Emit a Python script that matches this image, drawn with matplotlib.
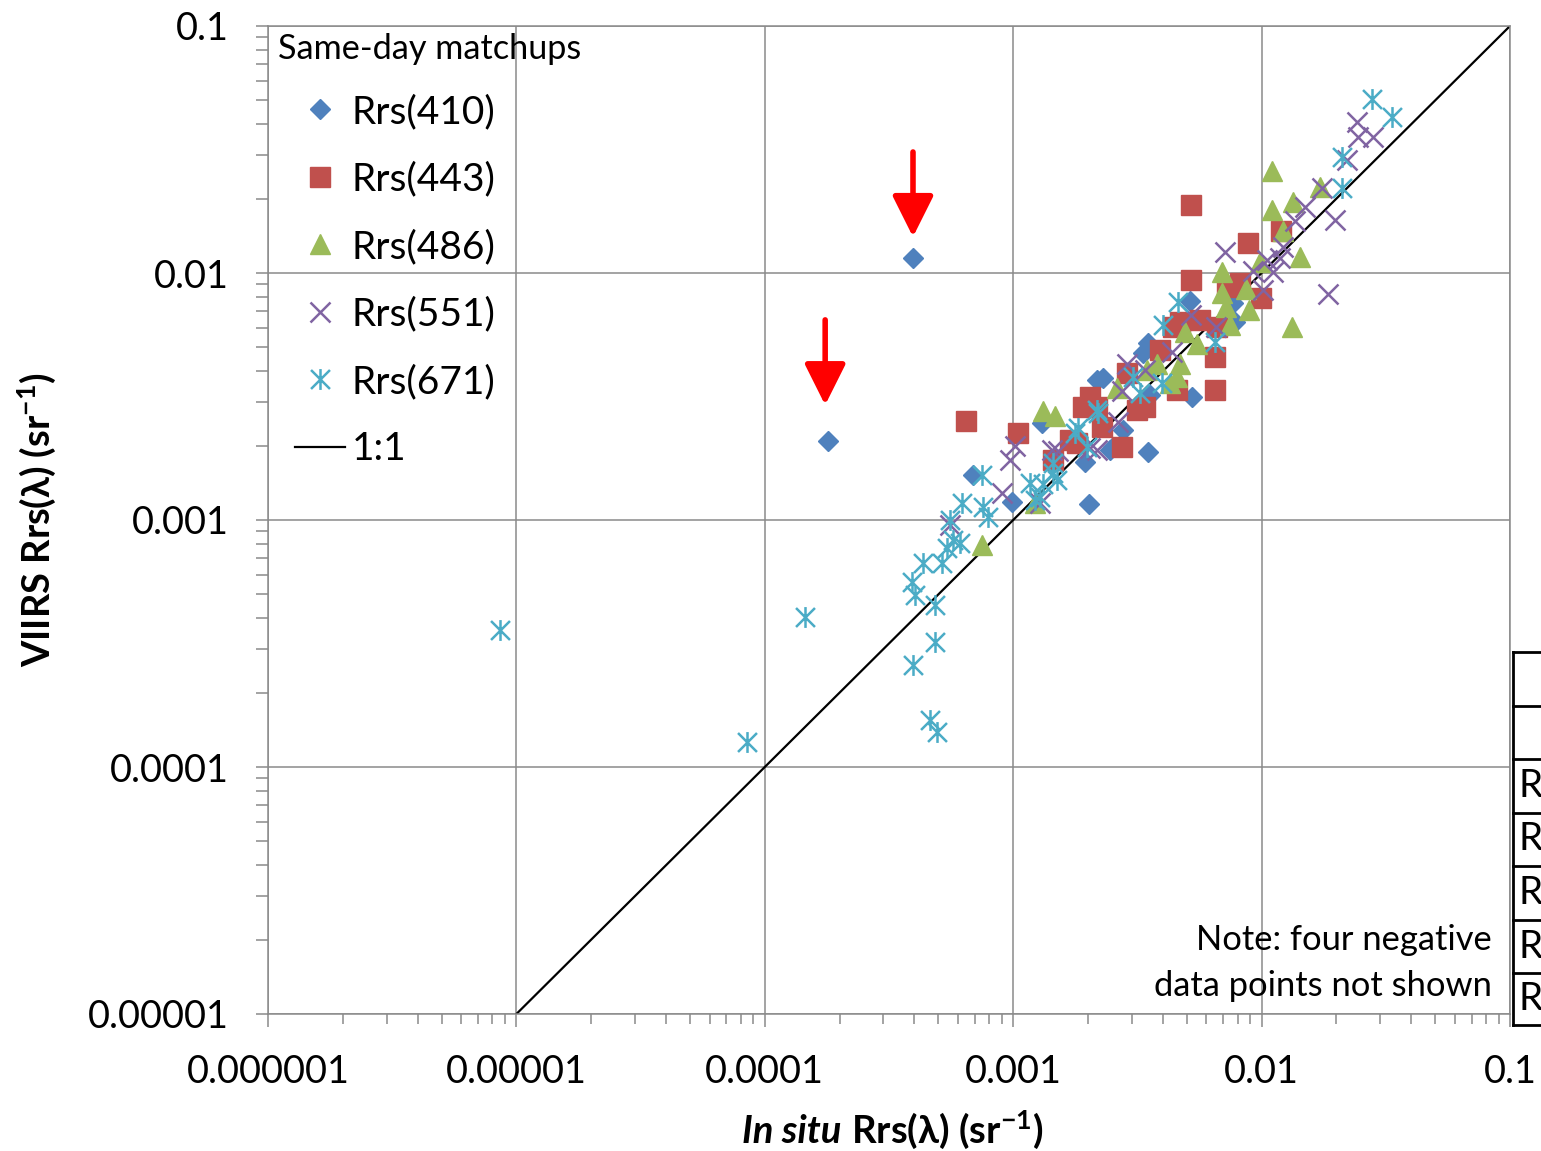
import numpy as np
import matplotlib
matplotlib.use("Agg")
import matplotlib.pyplot as plt
from matplotlib.lines import Line2D
from matplotlib.path import Path
from matplotlib.ticker import NullFormatter, LogLocator

plt.rcParams['font.family'] = ['Lato', 'DejaVu Sans']
plt.rcParams['mathtext.fontset'] = 'custom'
plt.rcParams['mathtext.rm'] = 'Lato:bold'
plt.rcParams['mathtext.it'] = 'Lato:italic:bold'
plt.rcParams['mathtext.bf'] = 'Lato:bold'

# ---- data (in situ, VIIRS) ----
rrs410_x = [3.95e-4, 1.80e-4, 6.89e-4, 9.89e-4, 2.02e-3, 2.45e-3, 3.49e-3, 2.77e-3, 1.95e-3, 5.25e-3,
            5.15e-3, 7.81e-3, 3.49e-3, 3.33e-3, 2.18e-3, 2.30e-3, 3.55e-3, 2.52e-3, 7.67e-3, 1.31e-3]
rrs410_y = [1.15e-2, 2.09e-3, 1.52e-3, 1.18e-3, 1.16e-3, 1.92e-3, 1.89e-3, 2.31e-3, 1.72e-3, 3.15e-3,
            7.70e-3, 6.33e-3, 5.21e-3, 4.75e-3, 3.69e-3, 3.76e-3, 3.21e-3, 1.97e-3, 7.56e-3, 2.47e-3]

rrs443_x = [6.46e-4, 1.045e-3, 5.20e-3, 5.20e-3, 8.81e-3, 1.197e-2, 9.94e-3, 7.26e-3, 8.18e-3, 6.49e-3,
            6.49e-3, 4.69e-3, 5.65e-3, 6.61e-3, 3.90e-3, 4.56e-3, 3.39e-3, 2.87e-3, 2.18e-3, 2.04e-3,
            1.91e-3, 2.28e-3, 2.74e-3, 1.69e-3, 1.81e-3, 1.45e-3, 3.15e-3, 4.40e-3]
rrs443_y = [2.52e-3, 2.25e-3, 1.885e-2, 9.37e-3, 1.32e-2, 1.48e-2, 7.92e-3, 8.77e-3, 9.11e-3, 4.57e-3,
            3.36e-3, 6.33e-3, 6.45e-3, 6.04e-3, 4.88e-3, 3.36e-3, 2.87e-3, 3.94e-3, 2.87e-3, 3.15e-3,
            2.87e-3, 2.38e-3, 1.97e-3, 2.11e-3, 2.05e-3, 1.75e-3, 2.79e-3, 6.04e-3]

rrs486_x = [1.101e-2, 1.101e-2, 1.338e-2, 1.718e-2, 1.428e-2, 1.326e-2, 1.22e-2, 9.85e-3, 6.93e-3, 8.65e-3,
            6.93e-3, 7.19e-3, 8.90e-3, 7.46e-3, 4.91e-3, 5.49e-3, 3.79e-3, 4.69e-3, 4.28e-3, 2.62e-3,
            1.318e-3, 1.474e-3, 7.49e-4, 1.224e-3, 3.46e-3, 4.56e-3]
rrs486_y = [2.59e-2, 1.80e-2, 1.94e-2, 2.23e-2, 1.16e-2, 6.04e-3, 1.48e-2, 1.107e-2, 1.01e-2, 8.61e-3,
            8.30e-3, 7.28e-3, 7.09e-3, 6.16e-3, 5.77e-3, 5.16e-3, 4.28e-3, 4.28e-3, 3.59e-3, 3.42e-3,
            2.76e-3, 2.64e-3, 7.92e-4, 1.17e-3, 4.05e-3, 3.79e-3]

rrs551_x = [2.42e-2, 2.44e-2, 2.81e-2, 2.21e-2, 1.75e-2, 1.495e-2, 1.363e-2, 1.975e-2, 1.22e-2, 1.051e-2,
            1.186e-2, 9.24e-3, 1.111e-2, 1.013e-2, 7.12e-3, 1.851e-2, 5.20e-3, 6.55e-3, 4.36e-3, 2.87e-3,
            3.39e-3, 2.74e-3, 2.64e-3, 1.017e-3, 9.71e-4, 9.01e-4, 5.57e-4, 1.282e-3, 1.515e-3, 2.04e-3,
            2.18e-3, 1.433e-3]
rrs551_y = [4.09e-2, 3.55e-2, 3.55e-2, 2.87e-2, 2.21e-2, 1.85e-2, 1.62e-2, 1.64e-2, 1.274e-2, 1.129e-2,
            1.15e-2, 1.019e-2, 1.01e-2, 8.53e-3, 1.216e-2, 8.22e-3, 6.76e-3, 6.04e-3, 4.79e-3, 4.28e-3,
            4.05e-3, 3.33e-3, 2.49e-3, 1.99e-3, 1.75e-3, 1.286e-3, 9.54e-4, 1.17e-3, 1.90e-3, 1.96e-3,
            1.92e-3, 1.92e-3]

rrs671_x = [8.59e-6, 8.48e-5, 1.451e-4, 3.95e-4, 4.84e-4, 4.63e-4, 4.93e-4, 3.91e-4, 4.02e-4, 4.84e-4,
            4.33e-4, 5.17e-4, 5.41e-4, 5.72e-4, 6.11e-4, 5.57e-4, 6.22e-4, 7.56e-4, 7.92e-4, 7.49e-4,
            1.168e-3, 1.318e-3, 1.45e-3, 1.50e-3, 1.282e-3, 1.823e-3, 1.98e-3, 2.195e-3, 3.24e-3, 1.45e-3,
            1.224e-3, 1.773e-3, 4.61e-3, 4.01e-3, 6.49e-3, 3.04e-3, 3.97e-3, 2.18e-3, 2.78e-2, 3.35e-2,
            2.11e-2, 2.11e-2]
rrs671_y = [3.59e-4, 1.263e-4, 4.05e-4, 2.59e-4, 3.21e-4, 1.55e-4, 1.386e-4, 5.61e-4, 4.97e-4, 4.53e-4,
            6.70e-4, 6.70e-4, 7.70e-4, 8.30e-4, 8.07e-4, 1.0e-3, 1.172e-3, 1.129e-3, 1.028e-3, 1.52e-3,
            1.412e-3, 1.40e-3, 1.55e-3, 1.452e-3, 1.239e-3, 2.36e-3, 1.97e-3, 2.71e-3, 3.27e-3, 1.70e-3,
            1.205e-3, 2.25e-3, 7.63e-3, 6.16e-3, 5.26e-3, 3.79e-3, 3.59e-3, 2.79e-3, 5.06e-2, 4.28e-2,
            2.95e-2, 2.21e-2]

one_to_one = [1e-5, 0.1]

# red arrows (x, y start, y end)
arrow_x = [3.95e-4, 1.75e-4]
arrow_y0 = [3.09e-2, 6.46e-3]
arrow_y1 = [1.40e-2, 2.92e-3]

xtick_vals = [1e-6, 1e-5, 1e-4, 1e-3, 1e-2, 1e-1]
xtick_labels = ['0.000001', '0.00001', '0.0001', '0.001', '0.01', '0.1']
ytick_vals = [1e-5, 1e-4, 1e-3, 1e-2, 1e-1]
ytick_labels = ['0.00001', '0.0001', '0.001', '0.01', '0.1']

# asterisk marker like Excel's
star = Path([(-0.5, -0.5), (0.5, 0.5), (-0.5, 0.5), (0.5, -0.5), (0, -0.55), (0, 0.55)],
            [Path.MOVETO, Path.LINETO] * 3)

W, H = 1541, 1151
fig = plt.figure(figsize=(W / 100, H / 100), dpi=100)
ax = fig.add_axes([268 / W, 1 - 1014 / H, (1510 - 268) / W, (1014 - 26) / H])
ax.set_xscale('log')
ax.set_yscale('log')
ax.set_xlim(1e-6, 0.1)
ax.set_ylim(1e-5, 0.1)

gray = '#8a8a8a'
ax.grid(True, which='major', color=gray, lw=1.1)
ax.set_axisbelow(True)
for s in ax.spines.values():
    s.set_color(gray)
    s.set_linewidth(1.1)

ax.plot(one_to_one, one_to_one, color='black', lw=1.6, zorder=2)

ax.plot(rrs410_x, rrs410_y, ls='none', marker='D', ms=10.5, color='#4F81BD', mec='#4F81BD', zorder=3)
ax.plot(rrs443_x, rrs443_y, ls='none', marker='s', ms=14, color='#C0504D', mec='#C0504D', zorder=3)
ax.plot(rrs486_x, rrs486_y, ls='none', marker='^', ms=14.5, color='#9BBB59', mec='#9BBB59', zorder=3)
ax.plot(rrs551_x, rrs551_y, ls='none', marker='x', ms=15, mew=1.8, color='#8064A2', zorder=3)
ax.plot(rrs671_x, rrs671_y, ls='none', marker=star, ms=15, mew=1.8, color='#4BACC6', zorder=3)

for x, y0, y1 in zip(arrow_x, arrow_y0, arrow_y1):
    ax.annotate('', xy=(x, y1), xytext=(x, y0),
                arrowprops=dict(arrowstyle='-|>,head_length=0.6,head_width=0.3',
                                color='red', lw=4, mutation_scale=42, shrinkA=0, shrinkB=0))

ax.set_xticks(xtick_vals)
ax.set_xticklabels(xtick_labels)
ax.set_yticks(ytick_vals)
ax.set_yticklabels(ytick_labels)
ax.xaxis.set_minor_locator(LogLocator(base=10, subs=np.arange(2, 10)))
ax.yaxis.set_minor_locator(LogLocator(base=10, subs=np.arange(2, 10)))
ax.xaxis.set_minor_formatter(NullFormatter())
ax.yaxis.set_minor_formatter(NullFormatter())
ax.tick_params(axis='both', which='both', color=gray, width=1.1, labelsize=27.3)
ax.tick_params(axis='x', which='major', length=9, pad=20)
ax.tick_params(axis='x', which='minor', length=7)
ax.tick_params(axis='y', which='both', length=9, pad=19)

# legend
handles = [
    Line2D([], [], ls='none', marker='D', ms=10, color='#4F81BD'),
    Line2D([], [], ls='none', marker='s', ms=14, color='#C0504D'),
    Line2D([], [], ls='none', marker='^', ms=14, color='#9BBB59'),
    Line2D([], [], ls='none', marker='x', ms=15, mew=1.8, color='#8064A2'),
    Line2D([], [], ls='none', marker=star, ms=15, mew=1.8, color='#4BACC6'),
    Line2D([], [], color='black', lw=1.6),
]
labels = ['Rrs(410)', 'Rrs(443)', 'Rrs(486)', 'Rrs(551)', 'Rrs(671)', '1:1']
fig.text(278 / W, 1 - 49 / H, 'Same-day matchups', fontsize=24.7, ha='left', va='center')
ax.legend(handles, labels, loc='upper left', bbox_to_anchor=(295 / W, 1 - 94 / H),
          bbox_transform=fig.transFigure, frameon=False, fontsize=28, borderpad=0,
          borderaxespad=0, handlelength=1.28, handletextpad=0.18, labelspacing=0.81,
          numpoints=1)

fig.text(1492 / W, 1 - 963 / H, 'Note: four negative\ndata points not shown', fontsize=24.8,
         ha='right', va='center', multialignment='right', linespacing=1.5)

# axis titles
fig.text(37 / W, 1 - 520 / H, r'VIIRS Rrs(λ) (sr$^{-1}$)', rotation=90, fontsize=27.4,
         fontweight='bold', ha='center', va='center')
fig.text(842 / W, 1 - 1143 / H, 'In situ', fontsize=27.5, fontweight='bold', style='italic',
         ha='right', va='baseline')
fig.text(842 / W, 1 - 1143 / H, r' Rrs(λ) (sr$^{-1}$)', fontsize=27.5, fontweight='bold',
         ha='left', va='baseline')

# cut-off table at the right edge
rows_px = [652, 706, 759, 813, 866, 920, 973, 1025]
fig.add_artist(Line2D([1513 / W, 1513 / W], [1 - 652 / H, 1 - 1025 / H], color='black', lw=2))
for r in rows_px:
    fig.add_artist(Line2D([1513 / W, 1], [1 - r / H, 1 - r / H], color='black', lw=2))
for a, b in zip(rows_px[2:-1], rows_px[3:]):
    fig.text(1518 / W, 1 - (a + b) / 2 / H, 'R', fontsize=28, ha='left', va='center')

fig.savefig('out.png', dpi=100)
